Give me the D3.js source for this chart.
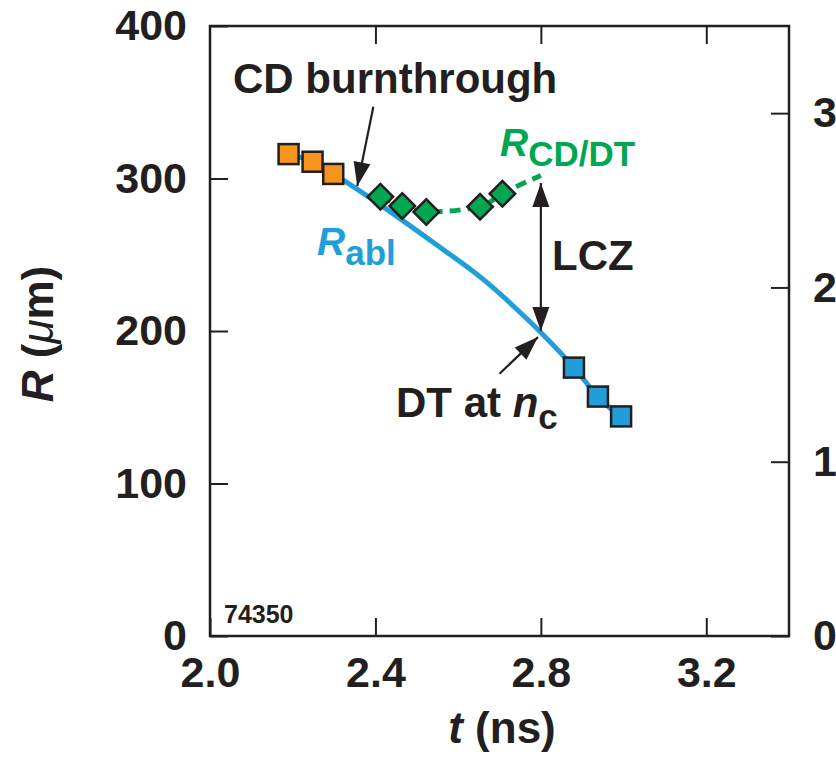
<!DOCTYPE html>
<html><head><meta charset="utf-8">
<script src="https://cdn.jsdelivr.net/npm/d3@7"></script>
<style>
body{margin:0;background:#fff}
svg{display:block}
text{font-family:"Liberation Sans",Arial,Helvetica,sans-serif;font-weight:bold;fill:#231f20}
</style>
</head><body><svg id="c" width="836" height="758"></svg>
<script>
// ---- data ----
const xTicks = [2.0, 2.4, 2.8, 3.2];
const yTicks = [0, 100, 200, 300, 400];
const y2Ticks = [0, 1, 2, 3];
const orangeT = [2.19, 2.248, 2.298];
const orangeR = [316, 311, 303];
const greenT = [2.412, 2.465, 2.523, 2.653, 2.707];
const greenR = [288, 282, 278, 281.5, 290];
const greenLineT = [2.412, 2.465, 2.523, 2.653, 2.707, 2.80];
const greenLineR = [288, 282, 278, 281.5, 290, 302];
const blueT = [2.88, 2.938, 2.994];
const blueR = [176, 157, 144];
const ablT = [2.19, 2.248, 2.298, 2.35, 2.41, 2.54, 2.66, 2.77, 2.80, 2.88, 2.938, 2.994];
const ablR = [316, 311, 303, 294, 283, 258, 234, 207, 199, 176, 157, 143];

const C_BLUE = "#1f9ed9", C_GREEN = "#00a651", C_ORANGE = "#f7941d", C_INK = "#231f20";

const svg = d3.select("#c");
const x = d3.scaleLinear().domain([2.0, 3.4]).range([210, 789]);
const y = d3.scaleLinear().domain([0, 400]).range([636, 26]);
const y2 = d3.scaleLinear().domain([0, 3.5]).range([636, 26]);

// frame
svg.append("rect").attr("x", x(2.0)).attr("y", y(400))
  .attr("width", x(3.4) - x(2.0)).attr("height", y(0) - y(400))
  .attr("fill", "none").attr("stroke", C_INK).attr("stroke-width", 2.5);

function styleAxis(g, fs) {
  g.select(".domain").remove();
  g.selectAll(".tick line").attr("stroke", C_INK).attr("stroke-width", 2);
  g.selectAll(".tick text").attr("font-size", fs).attr("fill", C_INK)
    .attr("font-family", '"Liberation Sans",Arial,sans-serif').attr("font-weight", "bold");
}
const TS = 18;
svg.append("g").attr("transform", `translate(0,${y(0)})`)
  .call(d3.axisBottom(x).tickValues(xTicks).tickFormat(d3.format(".1f")).tickSize(-TS).tickPadding(20))
  .call(g => styleAxis(g, 43));
svg.append("g").attr("transform", `translate(0,${y(400)})`)
  .call(d3.axisTop(x).tickValues(xTicks.slice(1)).tickFormat("").tickSize(-TS))
  .call(g => styleAxis(g, 43));
svg.append("g").attr("transform", `translate(${x(2.0)},0)`)
  .call(d3.axisLeft(y).tickValues(yTicks).tickSize(-TS).tickPadding(23))
  .call(g => styleAxis(g, 43));
svg.append("g").attr("transform", `translate(${x(3.4)},0)`)
  .call(d3.axisRight(y2).tickValues(y2Ticks).tickSize(-TS).tickPadding(24))
  .call(g => styleAxis(g, 43));

// blue ablation line
const ablPts = ablT.map((t, i) => [t, ablR[i]]);
svg.append("path").datum(ablPts)
  .attr("d", d3.line().x(d => x(d[0])).y(d => y(d[1])).curve(d3.curveMonotoneX))
  .attr("fill", "none").attr("stroke", C_BLUE).attr("stroke-width", 5);

// green dashed line
const gPts = greenLineT.map((t, i) => [t, greenLineR[i]]);
svg.append("path").datum(gPts)
  .attr("d", d3.line().x(d => x(d[0])).y(d => y(d[1])).curve(d3.curveMonotoneX))
  .attr("fill", "none").attr("stroke", C_GREEN).attr("stroke-width", 5)
  .attr("stroke-dasharray", "11,7");

const SQ = 20;
function squares(T, R, fill) {
  svg.append("g").selectAll("rect").data(T.map((t, i) => [t, R[i]])).join("rect")
    .attr("x", d => x(d[0]) - SQ / 2).attr("y", d => y(d[1]) - SQ / 2)
    .attr("width", SQ).attr("height", SQ)
    .attr("fill", fill).attr("stroke", C_INK).attr("stroke-width", 2.5);
}
squares(orangeT, orangeR, C_ORANGE);
const DS = 18;
svg.append("g").selectAll("rect").data(greenT.map((t, i) => [t, greenR[i]])).join("rect")
  .attr("x", -DS / 2).attr("y", -DS / 2).attr("width", DS).attr("height", DS)
  .attr("transform", d => `translate(${x(d[0])},${y(d[1])}) rotate(45)`)
  .attr("fill", C_GREEN).attr("stroke", C_INK).attr("stroke-width", 2.5);
squares(blueT, blueR, C_BLUE);

// arrows
function arrowHead(x2, y2p, ang) {
  const L = 24, W = 8.5;
  const bx = x2 - L * Math.cos(ang), by = y2p - L * Math.sin(ang);
  const px = -Math.sin(ang), py = Math.cos(ang);
  svg.append("path")
    .attr("d", `M${x2},${y2p}L${bx + W * px},${by + W * py}L${bx - W * px},${by - W * py}Z`)
    .attr("fill", C_INK);
}
function arrow(t1, r1, t2, r2, both) {
  const x1 = x(t1), yy1 = y(r1), x2 = x(t2), yy2 = y(r2);
  svg.append("line").attr("x1", x1).attr("y1", yy1).attr("x2", x2).attr("y2", yy2)
    .attr("stroke", C_INK).attr("stroke-width", 2.2);
  const ang = Math.atan2(yy2 - yy1, x2 - x1);
  arrowHead(x2, yy2, ang);
  if (both) arrowHead(x1, yy1, ang + Math.PI);
}
arrow(2.395, 347, 2.356, 295);
arrow(2.80, 297, 2.80, 200, true);
arrow(2.70, 172, 2.793, 196);

// annotation texts
svg.append("text").attr("x", 233).attr("y", 93).attr("font-size", 42).text("CD burnthrough");
const tcd = svg.append("text").attr("x", 500).attr("y", 156).style("fill", C_GREEN);
tcd.append("tspan").attr("font-size", 39).attr("font-style", "italic").text("R");
tcd.append("tspan").attr("font-size", 35).attr("dy", 10).text("CD/DT");
const tab = svg.append("text").attr("x", 317).attr("y", 255).style("fill", C_BLUE);
tab.append("tspan").attr("font-size", 39).attr("font-style", "italic").text("R");
tab.append("tspan").attr("font-size", 35).attr("dy", 10).text("abl");
svg.append("text").attr("x", 552).attr("y", 270).attr("font-size", 42).text("LCZ");
const tdt = svg.append("text").attr("x", 396).attr("y", 417).attr("font-size", 42);
tdt.append("tspan").text("DT at ");
tdt.append("tspan").attr("font-style", "italic").text("n");
tdt.append("tspan").attr("font-size", 35).attr("dy", 12).text("c");
svg.append("text").attr("x", 224).attr("y", 623).attr("font-size", 25).text("74350");

// axis titles
const yt = svg.append("text").attr("transform", "translate(53,334) rotate(-90)")
  .attr("text-anchor", "middle").attr("font-size", 44);
yt.append("tspan").attr("font-style", "italic").text("R");
yt.append("tspan").text(" (");
yt.append("tspan").attr("font-style", "italic").attr("font-weight", "normal").text("\u03bc");
yt.append("tspan").text("m)");
const xt = svg.append("text").attr("x", 502).attr("y", 743)
  .attr("text-anchor", "middle").attr("font-size", 44);
xt.append("tspan").attr("font-style", "italic").text("t");
xt.append("tspan").text(" (ns)");
</script>
</body></html>
